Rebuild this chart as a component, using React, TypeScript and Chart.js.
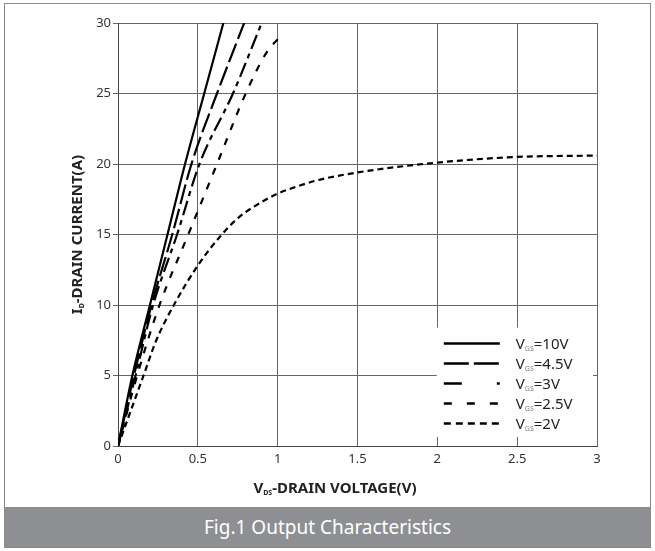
import React, { useEffect, useRef } from "react";
import { Chart, registerables } from "chart.js";

Chart.register(...registerables);

// ---- data ----
const X_MIN = 0;
const X_MAX = 3;
const X_STEP = 0.5;
const Y_MIN = 0;
const Y_MAX = 30;
const Y_STEP = 5;

const SERIES_LABELS = ["10V", "4.5V", "3V", "2.5V", "2V"];

const VDS_10V = [0, 0.09, 0.2, 0.31, 0.42, 0.54, 0.66];
const ID_10V = [0, 5, 10, 15, 20, 25, 30];

const VDS_4V5 = [0, 0.1, 0.21, 0.34, 0.46, 0.62, 0.79];
const ID_4V5 = [0, 5, 10, 15, 20, 25, 30];

const VDS_3V = [0, 0.11, 0.22, 0.37, 0.51, 0.72, 0.9];
const ID_3V = [0, 5, 10, 15, 20, 25, 30];

const VDS_2V5 = [0, 0.12, 0.26, 0.44, 0.62, 0.8, 0.93, 1.03];
const ID_2V5 = [0, 5, 10, 15, 20, 25, 27.9, 29.2];

const VDS_2V = [0, 0.16, 0.24, 0.35, 0.5, 0.65, 0.76, 0.87, 1.0, 1.12, 1.25, 1.5, 2.0, 2.5, 3.0];
const ID_2V = [0, 5, 7.5, 10, 12.8, 15, 16.25, 17.1, 17.9, 18.4, 18.85, 19.4, 20.1, 20.5, 20.6];

const PLOT_DASH = [[], [20, 5], [15, 5, 5, 5], [7, 9], [6, 4]];
const LEGEND_DASH = [[], [25, 5], [18, 35, 3, 100], [8, 15], [7, 5]];

const FONT = '"Noto Sans", sans-serif';

function pts(xs: number[], ys: number[]) {
  return xs.map((x, i) => ({ x, y: ys[i] }));
}

function drawSubText(
  ctx: CanvasRenderingContext2D,
  parts: { t: string; sub?: boolean }[],
  x: number,
  y: number,
  size: number,
  subSize: number,
  weight: string,
  color: string,
  subColor: string,
  align: "left" | "center"
) {
  const main = `${weight} ${size}px ${FONT}`;
  const small = `${weight} ${subSize}px ${FONT}`;
  let total = 0;
  for (const p of parts) {
    ctx.font = p.sub ? small : main;
    total += ctx.measureText(p.t).width;
  }
  let cx = align === "center" ? x - total / 2 : x;
  ctx.textBaseline = "alphabetic";
  ctx.textAlign = "left";
  for (const p of parts) {
    ctx.font = p.sub ? small : main;
    ctx.fillStyle = p.sub ? subColor : color;
    ctx.fillText(p.t, cx, p.sub ? y + 2 : y);
    cx += ctx.measureText(p.t).width;
  }
}

const overlayPlugin = {
  id: "overlay",
  afterDatasetsDraw(chart: any) {
    const ctx: CanvasRenderingContext2D = chart.ctx;
    const xs = chart.scales.x;
    const ys = chart.scales.y;
    // legend box
    const left = xs.getPixelForValue(2) - 0.5;
    const right = xs.getPixelForValue(3) - 4;
    const top = ys.getPixelForValue(8.4);
    const bottom = ys.getPixelForValue(0.65);
    ctx.save();
    ctx.fillStyle = "#ffffff";
    ctx.fillRect(left, top, right - left, bottom - top);
    const lineX0 = left + 7;
    const lineX1 = left + 63;
    const textX = left + 79;
    SERIES_LABELS.forEach((lab, i) => {
      const cy = top + 16 + i * 20;
      ctx.beginPath();
      ctx.setLineDash(LEGEND_DASH[i]);
      ctx.lineWidth = 2.5;
      ctx.strokeStyle = "#000";
      ctx.moveTo(lineX0, cy);
      ctx.lineTo(lineX1, cy);
      ctx.stroke();
      ctx.setLineDash([]);
      drawSubText(
        ctx,
        [{ t: "V" }, { t: "GS", sub: true }, { t: "=" + lab }],
        textX,
        cy + 5,
        15,
        7,
        "normal",
        "#222",
        "#777",
        "left"
      );
    });
    ctx.restore();
  },
  afterDraw(chart: any) {
    const ctx: CanvasRenderingContext2D = chart.ctx;
    const area = chart.chartArea;
    ctx.save();
    // x title
    drawSubText(
      ctx,
      [{ t: "V" }, { t: "DS", sub: true }, { t: "-DRAIN VOLTAGE(V)" }],
      335,
      493,
      15,
      7,
      "bold",
      "#222",
      "#222",
      "center"
    );
    // y title
    ctx.translate(82, (area.top + area.bottom) / 2);
    ctx.rotate(-Math.PI / 2);
    drawSubText(
      ctx,
      [{ t: "I" }, { t: "D", sub: true }, { t: "-DRAIN CURRENT(A)" }],
      0,
      0,
      15,
      7,
      "bold",
      "#222",
      "#222",
      "center"
    );
    ctx.restore();
  },
};

export default function App() {
  const ref = useRef<HTMLCanvasElement | null>(null);

  useEffect(() => {
    if (!ref.current) return;
    const series = [
      pts(VDS_10V, ID_10V),
      pts(VDS_4V5, ID_4V5),
      pts(VDS_3V, ID_3V),
      pts(VDS_2V5, ID_2V5),
      pts(VDS_2V, ID_2V),
    ];
    const chart = new Chart(ref.current, {
      type: "line",
      data: {
        datasets: series.map((d, i) => ({
          label: "VGS=" + SERIES_LABELS[i],
          data: d,
          borderColor: "#000",
          borderWidth: 2.2,
          borderDash: PLOT_DASH[i],
          pointRadius: 0,
          fill: false,
          cubicInterpolationMode: "monotone" as const,
        })),
      },
      options: {
        animation: false,
        responsive: false,
        devicePixelRatio: 1,
        layout: { padding: { left: 68, right: 58, top: 23, bottom: 29 } },
        plugins: {
          legend: { display: false },
          tooltip: { enabled: false },
          title: { display: false },
        },
        scales: {
          x: {
            type: "linear",
            min: X_MIN,
            max: X_MAX,
            afterFit: (s: any) => {
              s.height = 30;
            },
            ticks: {
              stepSize: X_STEP,
              padding: 5,
              color: "#333",
              font: { family: FONT, size: 13 },
              callback: (v: any) => String(Number(v)),
            },
            grid: { color: "#666", lineWidth: 1, drawTicks: false },
            border: { color: "#444", width: 1 },
          },
          y: {
            type: "linear",
            min: Y_MIN,
            max: Y_MAX,
            afterFit: (s: any) => {
              s.width = 50;
            },
            ticks: {
              stepSize: Y_STEP,
              padding: 2,
              color: "#333",
              font: { family: FONT, size: 13 },
            },
            grid: { color: "#666", lineWidth: 1, tickLength: 5 },
            border: { color: "#444", width: 1 },
          },
        },
      },
      plugins: [overlayPlugin],
    });
    return () => chart.destroy();
  }, []);

  return (
    <div
      style={{
        position: "absolute",
        left: 0,
        top: 0,
        width: 655,
        height: 551,
        background: "#fff",
        fontFamily: FONT,
      }}
    >
      <div
        style={{
          position: "absolute",
          left: 4,
          top: 3,
          width: 645,
          height: 543,
          border: "1.5px solid #8a8a8a",
        }}
      />
      <canvas
        ref={ref}
        width={655}
        height={505}
        style={{ position: "absolute", left: 0, top: 0, width: 655, height: 505 }}
      />
      <div
        style={{
          position: "absolute",
          left: 5,
          top: 507,
          width: 645,
          height: 40,
          background: "#8e8f93",
          color: "#fff",
          fontSize: 19,
          lineHeight: "40px",
          textAlign: "center",
        }}
      >
        Fig.1 Output Characteristics
      </div>
    </div>
  );
}
